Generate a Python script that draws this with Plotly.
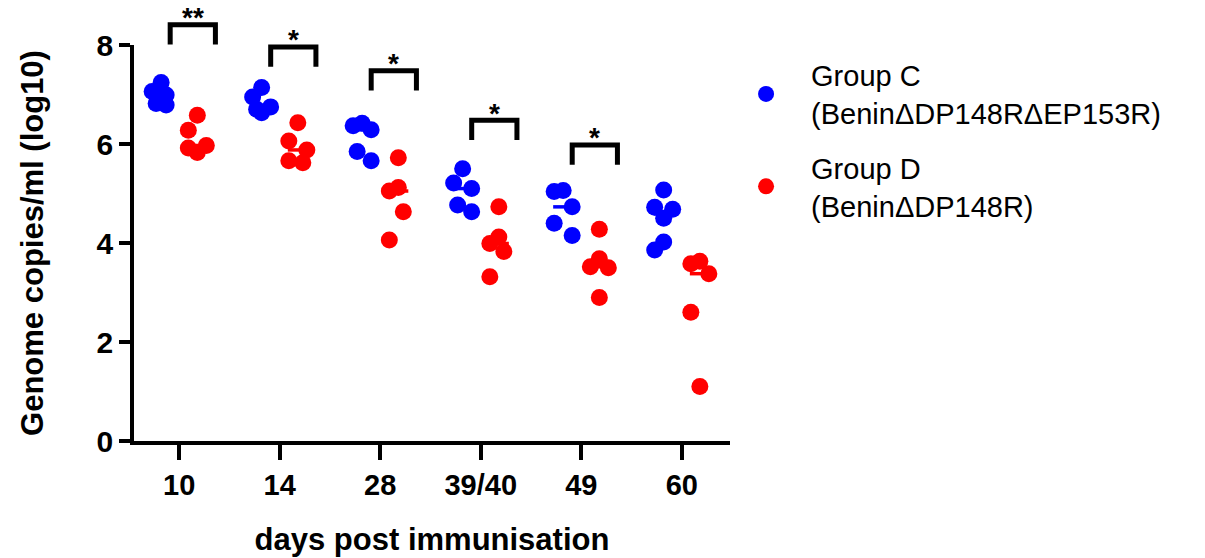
import numpy as np
import plotly.graph_objects as go

# ---------------- data ----------------
categories = ["10", "14", "28", "39/40", "49", "60"]

group_c = [
    [7.24, 7.06, 6.99, 6.82, 6.79],
    [7.14, 6.95, 6.75, 6.70, 6.63],
    [6.42, 6.37, 6.29, 5.85, 5.66],
    [5.50, 5.21, 5.10, 4.77, 4.63],
    [5.06, 5.04, 4.73, 4.40, 4.15],
    [5.07, 4.72, 4.68, 4.50, 4.02, 3.86],
]
group_d = [
    [6.58, 6.28, 5.97, 5.92, 5.83],
    [6.43, 6.06, 5.88, 5.66, 5.62],
    [5.72, 5.12, 5.05, 4.63, 4.06],
    [4.73, 4.12, 3.99, 3.83, 3.32],
    [4.28, 3.68, 3.52, 3.50, 2.90],
    [3.63, 3.58, 3.38, 2.60, 1.10],
]
sig_labels = ["**", "*", "*", "*", "*", ""]
sig_bracket_top = [8.41, 7.96, 7.48, 6.48, 5.98]

series_names = ["Group C<br>(Benin\u0394DP148R\u0394EP153R)", "Group D<br>(Benin\u0394DP148R)"]
series_colors = ["#0000FF", "#FF0000"]

# ---------------- layout constants ----------------
W, H = 1205, 558
ML, MR, MT, MB = 134, 475, 45, 117
XR = [-0.45, 5.48]
YR = [0, 8]
plot_w = W - ML - MR
plot_h = H - MT - MB
px_x = plot_w / (XR[1] - XR[0])   # pixels per x unit
px_y = plot_h / (YR[1] - YR[0])   # pixels per y unit
group_offset = 0.18
FONT = "Arial, Liberation Sans, sans-serif"


def swarm(values, center):
    """Simple beeswarm: spread overlapping points sideways (in px)."""
    cands = [0, -5, 5, -9, 9]
    placed = []
    xs = []
    for v in values:
        best, best_d = 0, -1
        for c in cands:
            if not placed:
                d = 1e9
            else:
                d = min(np.hypot(c - px, (v - pv) * px_y) for px, pv in placed)
            if d > best_d + 2:
                best, best_d = c, d
        placed.append((best, v))
        xs.append(center + best / px_x)
    return xs


fig = go.Figure()

for gi, (data, name, color) in enumerate(zip([group_c, group_d], series_names, series_colors)):
    sign = -1 if gi == 0 else 1
    # median lines
    for ci, vals in enumerate(data):
        c = ci + sign * group_offset
        m = float(np.median(vals))
        half = 10 / px_x
        fig.add_trace(go.Scatter(
            x=[c - half, c + half], y=[m, m], mode="lines",
            line=dict(color=color, width=3.5), showlegend=False,
            hoverinfo="skip", cliponaxis=False))
    xs, ys = [], []
    for ci, vals in enumerate(data):
        c = ci + sign * group_offset
        xs += swarm(vals, c)
        ys += vals
    fig.add_trace(go.Scatter(
        x=xs, y=ys, mode="markers", name=name, legendgroup=name,
        marker=dict(color=color, size=17, line=dict(width=0)),
        cliponaxis=False))

# significance brackets
shapes = []
annotations = []
p = lambda v: v / YR[1]
for ci, (lab, top) in enumerate(zip(sig_labels, sig_bracket_top)):
    if not lab:
        continue
    x0 = ci - 0.09
    x1 = ci + 0.36
    bot = top - 0.4
    shapes.append(dict(
        type="path", xref="x", yref="paper",
        path=f"M {x0} {p(bot)} L {x0} {p(top)} L {x1} {p(top)} L {x1} {p(bot)}",
        line=dict(color="black", width=5)))
    annotations.append(dict(
        x=(x0 + x1) / 2, y=p(top), xref="x", yref="paper", text=lab, showarrow=False,
        yanchor="middle", yshift=7, borderpad=0,
        font=dict(family=FONT, size=28, color="black", weight="bold")))

fig.update_layout(
    width=W, height=H,
    margin=dict(l=ML, r=MR, t=MT, b=MB, pad=0, autoexpand=False),
    paper_bgcolor="white", plot_bgcolor="white",
    font=dict(family=FONT, color="black"),
    shapes=shapes, annotations=annotations,
    showlegend=True,
    legend=dict(
        x=0.985, xanchor="left", y=0.988, yanchor="top",
        font=dict(family=FONT, size=29, color="black"),
        itemwidth=80, tracegroupgap=14, bgcolor="rgba(0,0,0,0)",
        itemclick=False, itemdoubleclick=False),
    xaxis=dict(
        range=XR, tickmode="array", tickvals=list(range(len(categories))),
        ticktext=categories, showgrid=False, zeroline=False, automargin=False,
        showline=True, linecolor="black", linewidth=3.5,
        ticks="outside", ticklen=15, tickwidth=3.5, tickcolor="black",
        tickfont=dict(family=FONT, size=29, color="black", weight="bold"),
        title=dict(text="days post immunisation", standoff=30,
                   font=dict(family=FONT, size=31, color="black", weight="bold"))),
    yaxis=dict(
        range=YR, tickmode="array", tickvals=[0, 2, 4, 6, 8],
        showgrid=False, zeroline=False, automargin=False,
        showline=True, linecolor="black", linewidth=3.5,
        ticks="outside", ticklen=11, tickwidth=3.5, tickcolor="black",
        tickfont=dict(family=FONT, size=30, color="black", weight="bold"),
        title=dict(text="Genome copies/ml (log10)", standoff=45,
                   font=dict(family=FONT, size=31, color="black", weight="bold"))),
)

fig.write_html("out.html")
